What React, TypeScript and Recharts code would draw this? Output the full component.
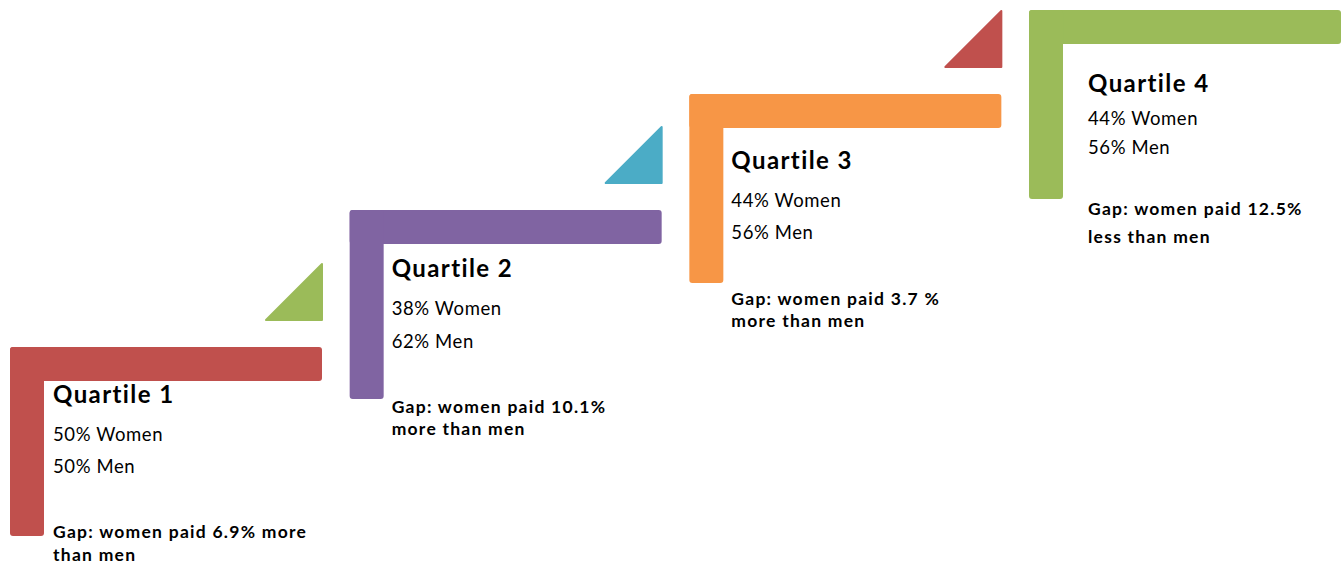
import React from 'react';
import { Scatter, ScatterChart, XAxis, YAxis } from 'recharts';

// data
const QUARTILES = ['Quartile 1', 'Quartile 2', 'Quartile 3', 'Quartile 4'];
const WOMEN_PCT = [50, 38, 44, 44];
const MEN_PCT = [50, 62, 56, 56];
const STEP_LEVEL = [0, 1.37, 2.53, 3.37];
const GAP_LINES = [
  ['Gap: women paid 6.9% more', 'than men'],
  ['Gap: women paid 10.1%', 'more than men'],
  ['Gap: women paid 3.7 %', 'more than men'],
  ['Gap: women paid 12.5%', 'less than men'],
];

const BAR_COLORS = ['#C0504D', '#8064A2', '#F79646', '#9BBB59'];
const ARROW_COLORS = ['#9BBB59', '#4BACC6', '#C0504D', null];

// text box placement per step (offset from the top-left of the L)
const TEXT_BOX = [
  { dx: 43, ys: [56, 93.7, 126, 191.3, 214] },
  { dx: 42, ys: [66.7, 105, 137.7, 202.7, 225] },
  { dx: 42, ys: [75, 112.7, 145, 211, 232.7] },
  { dx: 59, ys: [81.7, 115, 144, 205, 233] },
];

const W = 1343;
const H = 565;
const FONT = 'Lato, "Open Sans", sans-serif';
const BAR_LEN = 312;
const BAR_T = 34;
const LEG_LEN = 189;
const TRI = 56;
const TRI_GAP = 27;

const TITLE_STYLE = { fontVariantLigatures: 'none', letterSpacing: 1.4 } as const;
const BODY_STYLE = { fontVariantLigatures: 'none', letterSpacing: 0.6 } as const;
const GAP_STYLE = { fontVariantLigatures: 'none', letterSpacing: 1.25 } as const;

const data = QUARTILES.map((q, i) => ({
  step: i,
  level: STEP_LEVEL[i],
  name: q,
  women: WOMEN_PCT[i],
  men: MEN_PCT[i],
  gap: GAP_LINES[i],
}));

function Step(props: any) {
  const { cx, cy, payload } = props;
  const i = payload.step;
  const color = BAR_COLORS[i];
  const arrow = ARROW_COLORS[i];
  const box = TEXT_BOX[i];
  const tx = cx + box.dx;
  const right = cx + BAR_LEN;
  return (
    <g>
      <rect x={cx} y={cy} width={BAR_LEN} height={BAR_T} rx={3} fill={color} />
      <rect x={cx} y={cy} width={BAR_T} height={LEG_LEN} rx={3} fill={color} />
      {arrow && (
        <path
          d={`M${right - TRI},${cy - TRI_GAP} L${right},${cy - TRI_GAP} L${right},${cy - TRI_GAP - TRI} Z`}
          fill={arrow}
          stroke={arrow}
          strokeWidth={2}
          strokeLinejoin="round"
        />
      )}
      <text x={tx} y={cy + box.ys[0]} fontFamily={FONT} fontSize={24} fontWeight={700} fill="#000" style={TITLE_STYLE}>
        {payload.name}
      </text>
      <text x={tx} y={cy + box.ys[1]} fontFamily={FONT} fontSize={18.5} fill="#000" style={BODY_STYLE}>
        {`${payload.women}% Women`}
      </text>
      <text x={tx} y={cy + box.ys[2]} fontFamily={FONT} fontSize={18.5} fill="#000" style={BODY_STYLE}>
        {`${payload.men}% Men`}
      </text>
      {payload.gap.map((line: string, k: number) => (
        <text key={k} x={tx} y={cy + box.ys[3 + k]} fontFamily={FONT} fontSize={17.5} fontWeight={700} fill="#000" style={GAP_STYLE}>
          {line}
        </text>
      ))}
    </g>
  );
}

export default function App() {
  return (
    <div style={{ position: 'absolute', left: 0, top: 0, width: W, height: H, background: '#fff' }}>
      <ScatterChart width={W} height={H} margin={{ top: 0, right: 0, left: 10, bottom: 0 }}>
        <XAxis type="number" dataKey="step" domain={[0, 1333 / 339.67]} hide />
        <YAxis type="number" dataKey="level" domain={[-2.18, 3.47]} hide />
        <Scatter data={data} shape={<Step />} isAnimationActive={false} />
      </ScatterChart>
    </div>
  );
}
